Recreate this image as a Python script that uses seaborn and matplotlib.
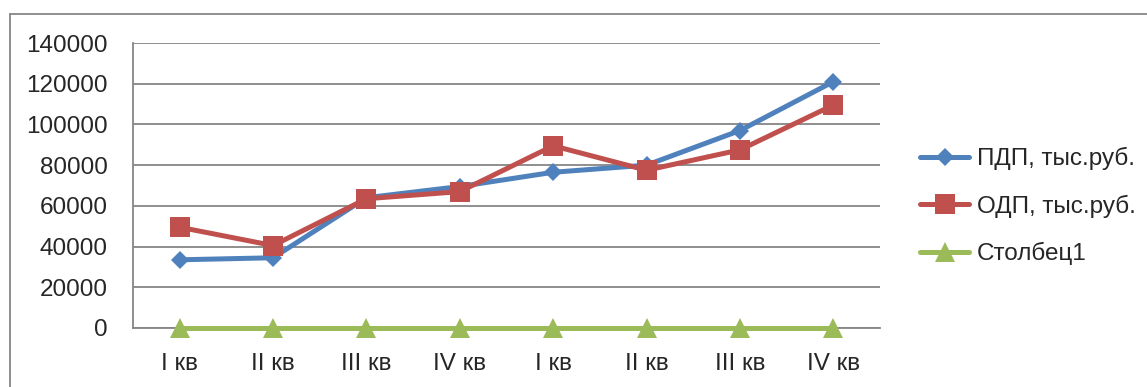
import matplotlib
matplotlib.use("Agg")
import matplotlib.pyplot as plt
import seaborn as sns
import pandas as pd
from matplotlib.lines import Line2D

# data
quarters = ["I кв", "II кв", "III кв", "IV кв", "I кв", "II кв", "III кв", "IV кв"]
pdp = [33500, 34500, 64000, 69500, 76500, 80000, 97000, 121000]
odp = [49500, 40500, 63500, 67000, 89500, 77500, 87500, 109500]
stolbec1 = [0, 0, 0, 0, 0, 0, 0, 0]

series_names = ["ПДП, тыс.руб.", "ОДП, тыс.руб.", "Столбец1"]
series_values = [pdp, odp, stolbec1]
colors = ["#4F81BD", "#C0504D", "#9BBB59"]
markers = ["D", "s", "^"]
msizes = [9.5, 14, 14]

sns.set_style("white")
plt.rcParams["font.family"] = ["Liberation Sans", "DejaVu Sans"]

fig = plt.figure(figsize=(11.47, 3.87), dpi=100)
ax = fig.add_axes([133 / 1147, 1 - 328 / 387, (880 - 133) / 1147, (328 - 43) / 387])

for name, vals, c, m, ms in zip(series_names, series_values, colors, markers, msizes):
    df = pd.DataFrame({"x": range(len(quarters)), "y": vals})
    sns.lineplot(data=df, x="x", y="y", ax=ax, color=c, linewidth=3.6,
                 marker=m, markersize=ms, markeredgewidth=0, label=name,
                 clip_on=False, zorder=3)

ax.set_xlim(-0.5, len(quarters) - 0.5)
ax.set_ylim(0, 140000)
ax.set_yticks(range(0, 140001, 20000))
ax.set_yticklabels([str(v) for v in range(0, 140001, 20000)], fontsize=17.5)
ax.set_xticks(range(len(quarters)))
ax.set_xticklabels(quarters, fontsize=17.5)
ax.set_xticks([i - 0.5 for i in range(len(quarters) + 1)], minor=True)
ax.tick_params(axis="x", which="major", length=0, pad=18)
ax.tick_params(axis="x", which="minor", length=6, width=1.2, color="#868686", direction="out")
ax.tick_params(axis="y", length=6, width=1.2, color="#868686", direction="out", pad=12)
ax.set_xlabel("")
ax.set_ylabel("")

ax.grid(axis="y", color="#868686", linewidth=1.3)
ax.grid(axis="x", visible=False)
for side in ["top", "right"]:
    ax.spines[side].set_visible(False)
for side in ["left", "bottom"]:
    ax.spines[side].set_color("#868686")
    ax.spines[side].set_linewidth(1.3)
ax.set_axisbelow(True)

leg = ax.legend(loc="center left", bbox_to_anchor=(1.04, 0.428), frameon=False,
                fontsize=17.5, handlelength=2.05, handletextpad=0.3, labelspacing=1.0,
                borderaxespad=0)

# outer chart frame (only left and top edges are visible in the crop)
fig.add_artist(Line2D([9.5 / 1147, 9.5 / 1147], [0, 1 - 13.5 / 387], transform=fig.transFigure,
                      color="#868686", linewidth=1.3))
fig.add_artist(Line2D([9.5 / 1147, 1], [1 - 13.5 / 387, 1 - 13.5 / 387], transform=fig.transFigure,
                      color="#868686", linewidth=1.3))

fig.savefig("out.png", dpi=100)
